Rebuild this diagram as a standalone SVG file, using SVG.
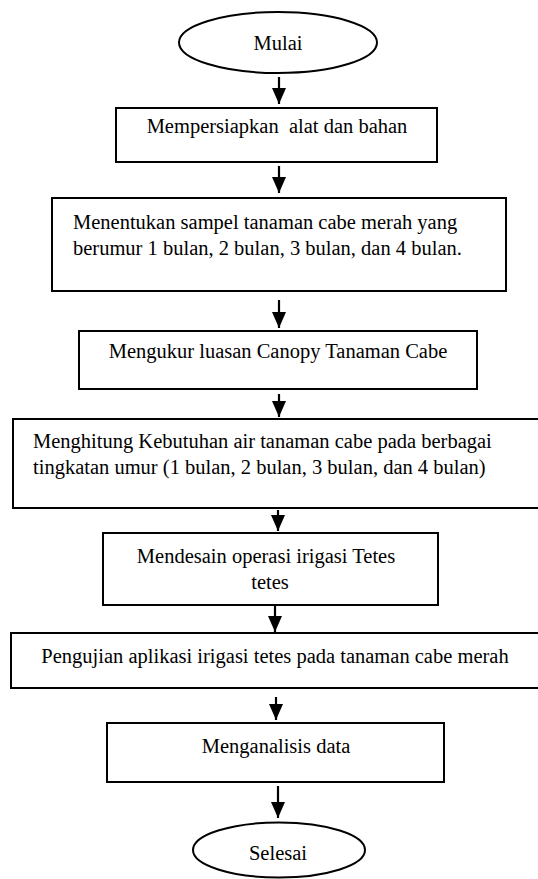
<svg xmlns="http://www.w3.org/2000/svg" width="538" height="879" viewBox="0 0 538 879">
<style>
.box{fill:#fff;stroke:#000;stroke-width:2}
.term{fill:#fff;stroke:#000;stroke-width:2}
.t{font-family:"Liberation Serif","Times New Roman",serif;font-size:20.5px;fill:#000}
.c{text-anchor:middle}
.conn{stroke:#000;stroke-width:2.2;fill:none;marker-end:url(#ah)}
</style>
<defs>
<marker id="ah" viewBox="0 0 16 14" markerWidth="16" markerHeight="14" refX="16" refY="7" orient="auto" markerUnits="userSpaceOnUse">
<path d="M0,0 L16,7 L0,14 z" fill="#000"/>
</marker>
</defs>
<rect width="538" height="879" fill="#fff"/>
<g id="connectors">
<line class="conn" x1="279" y1="77" x2="279" y2="104"/>
<line class="conn" x1="279" y1="166" x2="279" y2="193"/>
<line class="conn" x1="279" y1="300" x2="279" y2="328"/>
<line class="conn" x1="279" y1="394" x2="279" y2="417"/>
<line class="conn" x1="278" y1="510" x2="278" y2="531"/>
<line class="conn" x1="275" y1="606" x2="275" y2="632"/>
<line class="conn" x1="276" y1="697" x2="276" y2="720"/>
<line class="conn" x1="278" y1="786" x2="278" y2="818"/>
</g>
<g id="mulai">
<ellipse class="term" cx="278" cy="42.5" rx="99" ry="30.5"/>
<text class="t c" x="278" y="50">Mulai</text>
</g>
<g id="step1">
<rect class="box" x="116" y="108" width="321" height="54"/>
<text class="t c" x="277" y="133" xml:space="preserve">Mempersiapkan  alat dan bahan</text>
</g>
<g id="step2">
<rect class="box" x="52" y="198" width="454" height="93"/>
<text class="t" x="73" y="229">Menentukan sampel tanaman cabe merah yang</text>
<text class="t" x="73" y="255">berumur 1 bulan, 2 bulan, 3 bulan, dan 4 bulan.</text>
</g>
<g id="step3">
<rect class="box" x="79" y="331" width="398" height="58"/>
<text class="t c" x="278" y="358">Mengukur luasan Canopy Tanaman Cabe</text>
</g>
<g id="step4">
<rect class="box" x="13" y="419" width="530" height="89"/>
<text class="t" x="33" y="448">Menghitung Kebutuhan air tanaman cabe pada berbagai</text>
<text class="t" x="33" y="474">tingkatan umur (1 bulan, 2 bulan, 3 bulan, dan 4 bulan)</text>
</g>
<g id="step5">
<rect class="box" x="103" y="533" width="335" height="72"/>
<text class="t c" x="266" y="563">Mendesain operasi irigasi Tetes</text>
<text class="t c" x="270" y="589">tetes</text>
</g>
<g id="step6">
<rect class="box" x="11" y="633" width="532" height="55"/>
<text class="t c" x="275" y="663">Pengujian aplikasi irigasi tetes pada tanaman cabe merah</text>
</g>
<g id="step7">
<rect class="box" x="107" y="723" width="337" height="59"/>
<text class="t c" x="276" y="753">Menganalisis data</text>
</g>
<g id="selesai">
<ellipse class="term" cx="279" cy="850" rx="86" ry="27.5"/>
<text class="t c" x="278" y="860">Selesai</text>
</g>
</svg>
